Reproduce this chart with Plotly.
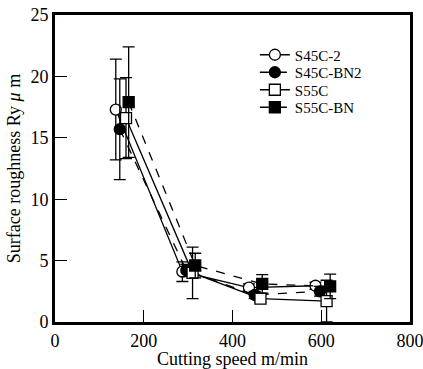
import plotly.graph_objects as go

series_names = ["S45C-2", "S45C-BN2", "S55C", "S55C-BN"]
x_s45c2 = [137, 287, 437, 587]
y_s45c2 = [17.3, 4.1, 2.8, 2.95]
e_s45c2 = [4.1, 0.8, 0.3, 0.3]

x_s45cbn2 = [146, 296, 450, 597]
y_s45cbn2 = [15.7, 4.2, 2.2, 2.5]
e_s45cbn2 = [4.1, 0.5, 0.3, 0.4]

x_s55c = [160, 310, 463, 612]
y_s55c = [16.6, 4.0, 1.9, 1.7]
e_s55c = [3.3, 2.1, 0.3, 1.7]

x_s55cbn = [166, 316, 467, 620]
y_s55cbn = [17.9, 4.6, 3.1, 2.9]
e_s55cbn = [4.5, 1.0, 0.75, 1.0]

x_ticks = [0, 200, 400, 600, 800]
y_ticks = [0, 5, 10, 15, 20, 25]

FONT = "Liberation Serif, Times New Roman, serif"

fig = go.Figure()
specs = [
    (series_names[0], x_s45c2, y_s45c2, e_s45c2, "circle", "solid", "white"),
    (series_names[1], x_s45cbn2, y_s45cbn2, e_s45cbn2, "circle", "dash", "black"),
    (series_names[2], x_s55c, y_s55c, e_s55c, "square", "solid", "white"),
    (series_names[3], x_s55cbn, y_s55cbn, e_s55cbn, "square", "dash", "black"),
]
legend_ids = ["legend", "legend2", "legend3", "legend4"]
for (name, xs, ys, es, sym, dash, fill), lg in zip(specs, legend_ids):
    fig.add_trace(go.Scatter(
        x=xs, y=ys, name=name, mode="lines+markers", legend=lg,
        line=dict(color="black", width=1.3, dash=dash),
        marker=dict(symbol=sym, size=11, color=fill,
                    line=dict(color="black", width=1.3)),
        error_y=dict(type="data", array=es, visible=True, color="black",
                     thickness=1.3, width=6),
    ))

legend_common = dict(x=0.563, xanchor="left", yanchor="middle",
                     bgcolor="rgba(0,0,0,0)", font=dict(family=FONT, size=15),
                     itemwidth=30, borderwidth=0)
row_px = [55, 72.5, 90, 107.5]
plot_top, plot_bottom = 15, 322
legends = {}
for lg, py in zip(legend_ids, row_px):
    legends[lg] = dict(legend_common, y=(plot_bottom - py) / (plot_bottom - plot_top))

fig.update_layout(
    width=423, height=369,
    margin=dict(l=55, r=13, t=15, b=47, autoexpand=False),
    paper_bgcolor="white", plot_bgcolor="white",
    font=dict(family=FONT, size=18, color="black"),
    showlegend=True,
    **legends,
)
fig.update_xaxes(
    range=[0, 800], tickvals=x_ticks, ticks="inside", ticklen=12,
    tickwidth=1, tickcolor="black", showgrid=False, zeroline=False,
    showline=True, linewidth=3, linecolor="black", mirror=True,
    automargin=False, ticklabeloverflow="allow",
    tickfont=dict(family=FONT, size=18),
    title=dict(text="Cutting speed m/min", font=dict(family=FONT, size=18), standoff=0),
)
fig.update_yaxes(
    range=[0, 25], tickvals=y_ticks, ticks="inside", ticklen=12,
    tickwidth=1, tickcolor="black", showgrid=False, zeroline=False,
    showline=True, linewidth=3, linecolor="black", mirror=True,
    automargin=False, ticklabeloverflow="allow",
    tickfont=dict(family=FONT, size=18),
    title=dict(text="Surface roughness Ry <i>μ</i> m", font=dict(family=FONT, size=18), standoff=6),
)
fig.write_html("out.html")
